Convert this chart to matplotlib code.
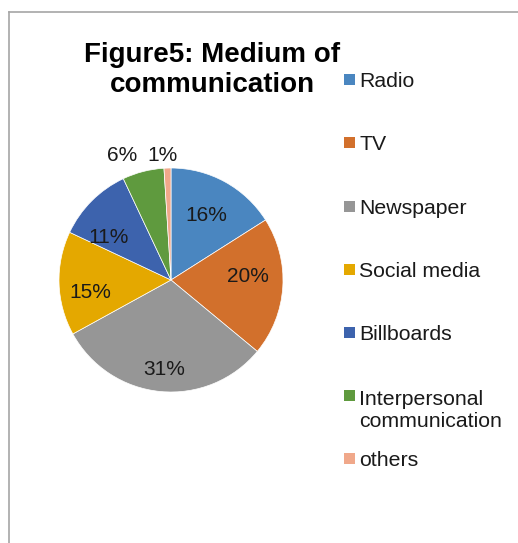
import matplotlib
matplotlib.use("Agg")
import matplotlib.pyplot as plt
from matplotlib.patches import Rectangle
from matplotlib.lines import Line2D

plt.rcParams['font.family'] = ['Liberation Sans', 'DejaVu Sans']

categories = ["Radio", "TV", "Newspaper", "Social media", "Billboards",
              "Interpersonal\ncommunication", "others"]
values = [16, 20, 31, 15, 11, 6, 1]
colors = ["#4A86C0", "#D2702C", "#969696", "#E4A800", "#3D63AD", "#5F9A3E", "#F0A88A"]
title = "Figure5: Medium of\ncommunication"

W, H = 518, 543
fig = plt.figure(figsize=(W / 100, H / 100), dpi=100)

def fx(px):
    return px / W

def fy(py):
    return 1 - py / H

# chart frame (only left and top edges visible)
fig.add_artist(Line2D([fx(9), fx(W + 5)], [fy(12), fy(12)], color="#a6a6a6", lw=1.2))
fig.add_artist(Line2D([fx(9), fx(9)], [fy(12), fy(H + 5)], color="#a6a6a6", lw=1.2))

# pie axes: center (171, 280), radius 112 px
cx, cy, R = 171, 280, 112
ax = fig.add_axes([fx(cx - R), fy(cy + R), 2 * R / W, 2 * R / H])
wedges, texts, autotexts = ax.pie(
    values, colors=colors, startangle=90, counterclock=False,
    autopct=lambda p: f"{p:.0f}%", pctdistance=0.7,
    wedgeprops=dict(edgecolor="white", linewidth=0.5),
    textprops=dict(fontsize=15, color="#1a1a1a"))
ax.set_xlim(-1, 1)
ax.set_ylim(-1, 1)
ax.set_aspect("equal")
ax.axis("off")

label_pos = [(0.319, 0.592), (0.69, 0.05), (-0.0625, -0.78), (-0.72, -0.096),
             (-0.555, 0.395), (-0.4375, 1.128), (-0.076, 1.128)]
for t, pos in zip(autotexts, label_pos):
    t.set_position(pos)
    t.set_ha("center")
    t.set_va("center_baseline")
    t.set_clip_on(False)

# title (va baseline refers to the last line)
fig.text(fx(212), fy(92), title, ha="center", va="baseline", fontsize=20,
         fontweight="bold", color="#000000", linespacing=1.2)

# legend
leg_y = [79.5, 142.7, 206.5, 269.5, 332.5, 395.5, 458.5]
for name, col, yc in zip(categories, colors, leg_y):
    fig.add_artist(Rectangle((fx(344), fy(yc + 5.5)), 11 / W, 11 / H,
                             facecolor=col, edgecolor="none",
                             transform=fig.transFigure))
    nlines = name.count("\n")
    fig.text(fx(359), fy(yc + 7.4 + 24 * nlines), name, ha="left", va="baseline",
             fontsize=15.3, color="#1a1a1a", linespacing=1.22)

fig.savefig("out.png", dpi=100)
